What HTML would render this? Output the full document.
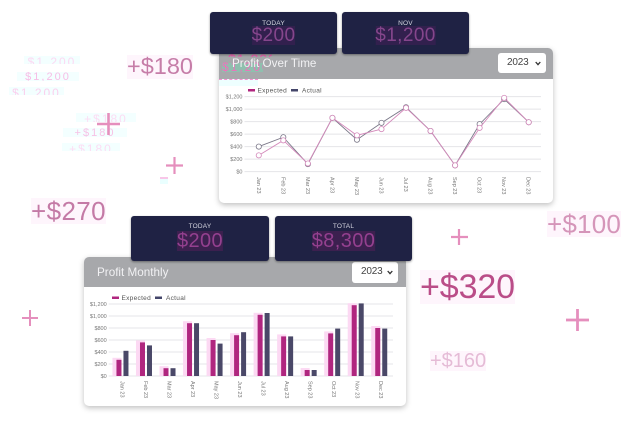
<!DOCTYPE html>
<html>
<head>
<meta charset="utf-8">
<style>
html,body{margin:0;padding:0;background:#fff;}
#stage{position:relative;width:644px;height:427px;overflow:hidden;background:#fff;font-family:"Liberation Sans",sans-serif;}
.float{position:absolute;white-space:nowrap;background:#fef5fc;line-height:1;}
.faint{position:absolute;white-space:nowrap;overflow:hidden;text-align:center;background:#f3ffff;line-height:1;}
.panel{position:absolute;background:#fff;border-radius:5px;box-shadow:0 2px 6px rgba(0,0,0,.25);overflow:hidden;}
.head{position:absolute;left:0;top:0;right:0;background:#a7a8ab;color:#f1f1f3;}
.sel{position:absolute;background:#fff;border-radius:3px;color:#444;font-size:10px;letter-spacing:-.2px;box-sizing:border-box;}
.caret{position:absolute;right:5px;top:8px;width:6px;height:5px;}
.card{position:absolute;background:#1f2244;border-radius:3px;box-shadow:0 1px 2px rgba(0,0,0,.4);text-align:center;color:#d5d5e0;}
.card .lbl{position:absolute;left:0;right:0;font-size:6.5px;letter-spacing:.2px;}
.card .val{position:absolute;left:50%;transform:translateX(-50%);color:#85468c;background:#32204e;line-height:1;white-space:nowrap;letter-spacing:.4px;}
svg{position:absolute;left:0;top:0;}
svg text{font-family:"Liberation Sans",sans-serif;}
</style>
</head>
<body>
<div id="stage">

<div class="faint" style="left:24px;top:56px;width:56px;height:8px;color:#fcd9f3;font-size:12px;letter-spacing:2px;">$1,200</div>
<div class="faint" style="left:17px;top:72px;width:62px;height:9px;color:#f7bde6;font-size:11px;letter-spacing:2px;">$1,200</div>
<div class="faint" style="left:9px;top:87px;width:55px;height:8px;color:#fbd0ee;font-size:12px;letter-spacing:2px;">$1,200</div>
<div class="faint" style="left:76px;top:113px;width:60px;height:9px;color:#fcdcf4;font-size:12px;letter-spacing:2px;">+$180</div>
<div class="faint" style="left:63px;top:128px;width:64px;height:9px;color:#f7c2e6;font-size:11px;letter-spacing:2px;">+$180</div>
<div class="faint" style="left:62px;top:143px;width:58px;height:8px;color:#fcdcf4;font-size:12px;letter-spacing:2px;">+$180</div>
<div class="faint" style="left:160px;top:177px;width:8px;height:7px;background:#eaffff;border-top:2px solid #f8c6e8;box-sizing:border-box;"></div>

<div class="float" style="left:127px;top:55px;color:#c67da8;font-size:23.5px;">+$180</div>
<div class="float" style="left:31px;top:198px;color:#c47aa6;font-size:26px;letter-spacing:.4px;">+$270</div>
<div class="float" style="left:547px;top:211px;color:#d595b9;font-size:26px;letter-spacing:.2px;">+$100</div>
<div class="float" style="left:420px;top:270px;color:#ba4d88;font-size:34px;letter-spacing:-.1px;">+$320</div>
<div class="float" style="left:430px;top:351px;color:#e5bbd6;font-size:20px;">+$160</div>

<svg width="644" height="427">
  <g stroke="#e58fbd" fill="none">
    <path stroke-width="2.6" d="M97 124H120M108.500 113V135"/>
    <path stroke-width="2.2" d="M166 165.500H183M174.500 157V174"/>
    <path stroke-width="2" d="M22 318H38M30 310V326"/>
    <path stroke-width="2.200" d="M451 237H468M459 229V245"/>
    <path stroke-width="2.800" d="M566 320H589M577.500 309V331"/>
  </g>
</svg>

<div class="panel" style="left:219px;top:48px;width:334px;height:155px;">
  <div class="head" style="height:31px;font-size:11.7px;line-height:31px;padding-left:13px;">
    <div style="position:absolute;left:3px;top:15px;width:41px;height:9px;background:#8fbfae;"></div>
    <div style="position:absolute;left:9px;top:6px;width:44px;height:3px;overflow:hidden;color:#f05ab0;font-size:14px;line-height:10px;letter-spacing:1px;">$1,200</div>
    <div style="position:absolute;left:3px;top:13px;width:41px;height:12px;overflow:hidden;color:#f070bb;font-size:12px;line-height:12px;letter-spacing:2px;">$1,200</div>
    <span style="position:relative;">Profit Over Time</span>
  </div>
  <div style="position:absolute;left:0;top:31px;width:39px;height:7px;background:#eeffff;border-top:1px dashed #f58fd0;box-sizing:border-box;"></div>
  <div class="sel" style="left:279px;top:5px;width:48px;height:20px;line-height:20px;padding-left:9px;">2023<svg class="caret" style="left:auto;top:8px;" viewBox="0 0 6 5"><path d="M.7 1L3 3.6 5.300 1" fill="none" stroke="#333" stroke-width="1.300"/></svg></div>
</div>

<div class="panel" style="left:84px;top:257px;width:322px;height:149px;">
  <div class="head" style="height:30px;font-size:11.7px;line-height:31px;padding-left:13px;">Profit Monthly</div>
  <div class="sel" style="left:268px;top:5px;width:46px;height:21px;line-height:20px;padding-left:9px;">2023<svg class="caret" style="left:auto;top:8px;" viewBox="0 0 6 5"><path d="M.7 1L3 3.6 5.300 1" fill="none" stroke="#333" stroke-width="1.300"/></svg></div>
</div>

<svg id="charts" width="644" height="427"></svg>

<div class="card" style="left:210px;top:12px;width:127px;height:42px;">
  <div class="lbl" style="top:8px;">TODAY</div>
  <div class="val" style="top:14px;font-size:19px;">$200</div>
</div>
<div class="card" style="left:342px;top:12px;width:127px;height:42px;">
  <div class="lbl" style="top:8px;">NOV</div>
  <div class="val" style="top:14px;font-size:19px;">$1,200</div>
</div>
<div class="card" style="left:131px;top:216px;width:138px;height:45px;">
  <div class="lbl" style="top:7px;">TODAY</div>
  <div class="val" style="top:15px;font-size:20px;color:#94408f;background:#3c204f;">$200</div>
</div>
<div class="card" style="left:275px;top:216px;width:137px;height:45px;">
  <div class="lbl" style="top:7px;">TOTAL</div>
  <div class="val" style="top:15px;font-size:20px;color:#94408f;background:#3c204f;">$8,300</div>
</div>
</div>

<script>
var months = ['Jan 23','Feb 23','Mar 23','Apr 23','May 23','Jun 23','Jul 23','Aug 23','Sep 23','Oct 23','Nov 23','Dec 23'];
var yTicks = [0,200,400,600,800,1000,1200];
var yTickLabels = ['$0','$200','$400','$600','$800','$1,000','$1,200'];
var lineExpected = [260,500,130,860,580,680,1020,650,100,700,1180,790];
var lineActual = [400,550,120,860,510,780,1030,650,100,760,1160,790];
var barExpected = [270,560,130,880,600,680,1020,660,100,710,1180,800];
var barActual = [420,510,130,880,540,730,1050,660,100,790,1210,790];

var root = document.getElementById('charts');
var NS = 'http://www.w3.org/2000/svg';
function mk(tag, attrs, parent) {
  var e = document.createElementNS(NS, tag);
  for (var k in attrs) e.setAttribute(k, attrs[k]);
  (parent || root).appendChild(e);
  return e;
}
function scales(left, right, y0, y1, max) {
  var band = (right - left) / months.length;
  return {
    band: band,
    x: function (i) { return left + band * (i + 0.5); },
    y: function (v) { return y0 + (y1 - y0) * v / max; }
  };
}
function axes(prefix, left, right, s, labelY) {
  yTicks.forEach(function (t, i) {
    var l = mk('line', {x1: left - 2, x2: right, y1: s.y(t), y2: s.y(t), stroke: '#e4e4e8', 'stroke-width': 1});
    
    
    var tx = mk('text', {x: left - 4, y: s.y(t) + 2, 'text-anchor': 'end', 'font-size': 5.5, fill: '#777'});
    
    
    tx.textContent = yTickLabels[i];
  });
  months.forEach(function (m, i) {
    var xx = s.x(i);
    var tx = mk('text', {x: xx, y: labelY, 'text-anchor': 'start', 'font-size': 5.5, fill: '#777', transform: 'rotate(90 ' + xx + ' ' + labelY + ') translate(0 2)'});
    
    
    tx.textContent = m;
  });
}
function legend(prefix, x, y) {
  var a = mk('rect', {x: x, y: y, width: 7, height: 2.5, fill: '#b0267f'});
  
  
  var t1 = mk('text', {x: x + 9.5, y: y + 3.5, 'font-size': 6.5, fill: '#555', 'letter-spacing': 0.3});
  
  
  t1.textContent = 'Expected';
  var b = mk('rect', {x: x + 43, y: y, width: 7, height: 2.5, fill: '#44466a'});
  
  
  var t2 = mk('text', {x: x + 54, y: y + 3.5, 'font-size': 6.5, fill: '#555', 'letter-spacing': 0.3});
  
  
  t2.textContent = 'Actual';
}

/* line chart */
var ls = scales(246.5, 541, 171.6, 96.6, 1200);
axes('line-chart', 246.5, 541, ls, 177);
legend('line-chart', 248, 89);
function drawLine(values, color, name) {
  var pts = values.map(function (v, i) { return ls.x(i) + ',' + ls.y(v); }).join(' ');
  var p = mk('polyline', {points: pts, fill: 'none', stroke: color, 'stroke-width': 0.9});
  
  
  values.forEach(function (v, i) {
    var c = mk('circle', {cx: ls.x(i), cy: ls.y(v), r: 2.6, fill: '#fff', stroke: color, 'stroke-width': 0.8});
    
    
  });
}
drawLine(lineActual, '#7a7788', 'actual');
drawLine(lineExpected, '#d48abb', 'expected');

/* bar chart */
var bs = scales(110.7, 393, 376, 304, 1200);
axes('bar-chart', 110.7, 393, bs, 381);
legend('bar-chart', 112, 296.5);
function drawBars(values, color, offset, width, extra, name) {
  values.forEach(function (v, i) {
    var top = bs.y(v) - extra;
    var r = mk('rect', {x: bs.x(i) + offset, y: top, width: width, height: bs.y(0) - top, fill: color});
    
    
  });
}
drawBars(barExpected, '#fcd9f3', -10, 9, 2, 'expected-bar-halo');
drawBars(barExpected, '#b0267f', -6, 5, 0, 'expected-bar');
drawBars(barActual, '#4a4868', 1, 5, 0, 'actual-bar');
</script>
</body>
</html>
